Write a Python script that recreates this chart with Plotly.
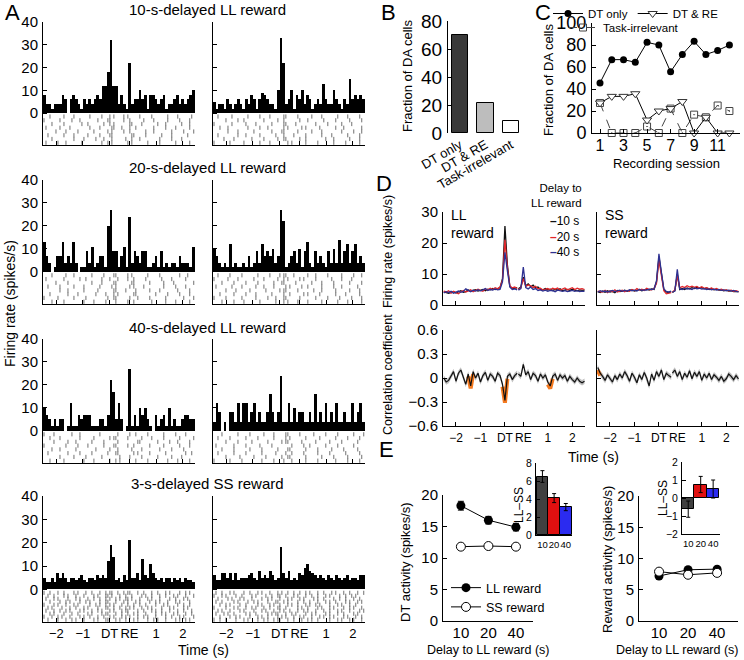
import plotly.graph_objects as go

W, H = 744, 660
FONT = "Liberation Sans, Arial, sans-serif"

# ================= DATA =================
# ---- Panel A: example neuron, PSTH (0.1-s bins from -2.5) + rasters ----
A_titles = ["10-s-delayed LL reward", "20-s-delayed LL reward",
            "40-s-delayed LL reward", "3-s-delayed SS reward"]
A_bin_start = -2.5
A_bin_width = 0.1
A_raster_bin = 0.075
RE_POS = 0.75   # axis position of reward (RE); DT = 0
time_tickvals = [-2, -1, 0, 0.75, 1.75, 2.75]
time_ticktext = ["−2", "−1", "DT", "RE", "1", "2"]

hist_10LL_L = [8,4,4,2,4,4,4,8,6,0, 6,8,6,4,2,6,4,6,4,6, 8,6,12,12,18,32,12,12,4,8,
               4,2,22,4,6,6,10,6,8,2, 8,8,6,4,6,8,2,4,4,6, 8,4,6,4,6,8,10]
hist_10LL_R = [5,2,4,4,2,6,4,2,4,6, 4,2,6,4,8,6,2,6,9,8, 6,4,4,2,10,33,22,4,6,10,
               2,8,6,10,4,8,6,2,4,6, 4,13,6,4,4,10,6,4,2,6, 4,15,6,8,6,8,6]
hist_20LL_L = [13,7,4,0,2,7,7,13,4,7, 4,13,4,0,2,2,9,4,11,2, 4,7,7,2,20,27,9,9,2,7,
               11,2,24,4,9,7,4,9,9,2, 2,4,7,2,9,2,4,2,4,4, 2,7,4,4,4,2,11]
hist_20LL_R = [10,7,4,2,4,2,12,2,4,2, 2,4,2,7,2,4,9,4,12,7, 9,7,10,4,7,27,22,2,4,7,
               9,4,10,2,9,13,4,2,9,4, 7,4,2,9,4,10,4,14,4,9, 12,4,9,12,4,7,4]
hist_40LL_L = [10,7,5,2,5,2,5,5,0,2, 12,2,2,7,5,7,7,7,2,2, 2,5,5,2,7,22,17,5,12,5,
               0,2,27,2,7,2,10,7,10,5, 2,0,7,2,5,7,2,10,2,5, 2,2,5,7,7,5,5]
hist_40LL_R = [4,12,8,0,4,0,8,8,4,12, 4,12,12,4,8,12,4,8,4,4, 8,16,8,4,8,24,4,4,12,4,
               10,4,8,8,4,4,8,4,16,4, 8,4,12,4,8,4,12,4,4,8, 4,4,12,4,8,12,4]
hist_3SS_L = [5,3,3,5,3,7,5,7,5,3, 5,5,4,5,6,4,3,5,5,4, 6,5,6,5,12,19,14,4,5,3,
              6,4,21,5,5,7,4,13,6,5, 11,7,5,4,5,3,5,5,3,5, 4,5,3,5,4,4,3]
hist_3SS_R = [6,4,4,7,7,5,7,4,7,4, 5,5,5,6,7,5,4,8,5,6, 5,8,6,4,5,18,7,5,8,4,
              5,4,7,6,9,11,8,7,6,5, 6,5,4,6,5,4,6,5,4,5, 6,4,5,5,4,6,6]

raster_10LL_L = [
    "...|......|....|.......|.....|...|.|....|.|.....|.....|.......|....|......|.",
    "|.......|.....|...|........|....||......|..|......|....|......|.....|....|...",
    "....|.....|........|..|.......|..|.|.......||....|.......|...|.......|...|...",
    ".|......|....|.........|....|.....||...|...|..|........|.....|....|......|...",
    "......|....|.....|.......|......|.|.....|..|.......|...|........|.....|....|.",
    "..|.......|....|......|.....|....||.........||.....|.......|....|.......|....",
    "....|..........|....|.....|...|...|......|..|...|.........|.....|....|......|",
    ".|.....|...|.......|.........|..|.|.......|.|.......|.....|.......|......|..."]
raster_10LL_R = [
    "..|......|.......|.....|....|......||.....|......|....|.......|....|.....|...",
    "......|.....|..|.........|......|..|.......|...|.......|.....|......|.....|..",
    "|........|......|....|.......|.....||....|.........|.....|......|....|......|",
    "...|...|.........|.....|...|.......|.|......|.|......|.......|...|........|..",
    ".......|....|.......|........|....||......|......|....|.........|.....|...|.",
    "..|.........|...|......|.......|...|....|.....|.......|....|.......|.....|...",
    ".....|....|........|.....|......|..||......|..|.........|...|.......|....|...",
    "|.......|......|.......|....|........|.|......|.....|.......|.....|......|..."]
raster_20LL_L = [
    "....|......|...|........|.....|....||.....|.|.......|.....|.........|...|....",
    ".|........|.......|..|.......|...|...|....|..|.....|.......|....|......|....|",
    "......|.....|...........|....|.....||.......||.......|......|....|.........|.",
    "..|.....|......|....|.......|.....|.|......|.|....|.........|.....|....|.....",
    "........|...|.......|......|.......||....|....|......|....|........|.....|...",
    "...|........|....|........|....|...|.|.......||.........|.....|.....|....|...",
    "|......|.......|.....|..........|..||......|...|.....|.......|........|....|.",
    "....|.....|.........|....|.....|....|.....|..|........|......|....|......|..."]
raster_20LL_R = [
    "..|.....|.....|.......|.....|....|.||...|......|...|.....|......|.....|...|..",
    "|......|....|.......|....|......|..|.|.....|.|.....|.......|....|....|......|",
    "....|.....|.....|.....|.......|...||.....|.......|....|.....|.......|.....|..",
    ".|.......|....|......|...|....|.....|.|.....|..|......|.....|...|.......|...|",
    "......|....|......|.......|......|.||.....|.......|...|......|......|....|...",
    "...|......|.....|....|.......|.....|..|......|.|.....|.......|....|......|...",
    "|.....|.......|......|.....|...|...||......|.......|.....|.....|.....|....|..",
    "....|.....|....|.......|.......|...|.|....|....|......|.......|....|......|.|"]
raster_40LL_L = [
    "|....|........|...|.........|........|.....|..|.....|.......|.....|....|....|",
    "...|....|.........|......|.......|.||.....|......|....|.....|.......|......|.",
    ".....|......|...|.......|.....|......|.........||........|.....|...|.....|...",
    "|..........|.....|....|.......|....||.....|..|.......|......|.......|....|...",
    "....|...|.......|.........|......|...|......|....|........|.....|.....|......",
    "..|.........|.....|.....|.......|...||.......|.|.....|.......|.........|..|..",
    "........|......|.....|.......|........|....|.....|.......|......|....|......|",
    "...|......|.........|....|.......|..|.|.......|.....|.........|....|.....|..."]
raster_40LL_R = [
    "....|.......|.....|......|....|.....||.....|......|.....|.....|.......|....|.",
    "..|.....|.......|.....|.......|.....|.|.......|......|.......|.....|.....|...",
    "......|.....|......|.......|......|.||......|......|......|.....|.......|....",
    ".|........|.....|......|.....|.........|.....|..|.......|.....|.......|.....|",
    "....|.....|.......|.....|.......|....||.......|.....|......|.....|......|....",
    "..|.......|.....|.......|......|....|..|.....|......|.....|.......|......|...",
    "......|......|......|.....|.......|..||.......|.......|.....|......|......|..",
    "|.......|.....|.........|.....|....|...|......|.....|........|.....|.....|..."]
raster_3SS_L = [
    "|..|...|..|....|.|...|..|...|..|.||..|..|.||...|..|...|..|...|.|....|..|.|...",
    "..|..|....|.|...|...|....|.|...||.|...|..|..|....|.|..|...|..|...|.|...|...|.",
    ".|...|.|....|...|.|...|..|..|..|.|..|.|..||.|...|...|.|...|....|..|...|.|...|",
    "...|....|..|.|....|..|.|....|..||...|...|.|...|.|....|..|.|...|...|.|....|...",
    "|....|.|...|...|.|.....|..|.|..|.|.|...|..|..|..|..|....|...|.|....|..|..|..|",
    "..|.|....|...|..|...|.|....|...||..|..|..|.|.|...|..|.|....|...|.|....|.|....",
    ".|...|..|..|.|....|.|...|..|.|...|.|...|.||....|..|...|.|..|...|...|..|...|..",
    "...|.|....|...|..|....|.|....|.||...|..|..|..|.|...|....|..|.|...|.|...|..|.|",
    "|...|..|.|...|....|.|..|...|..|..|.|...|.|.|...|..|.|...|....|..|...|.|....|.",
    "..|....|...|..|.|...|....|.|...||...|.|..|...|.|....|..|.|...|....|.|..|.|..."]
raster_3SS_R = [
    ".|..|...|.|....|..|...|.|...|...|.|..|..|..|..|.|...|..|...|.|...|..|...|..|.",
    "|...|.|....|..|....|.|....|..|..||..|...|.|...|..|..|...|.|....|..|..|.|....|",
    "..|....|.|...|.|...|....|..|.|...|...|.|...|.|....|.|..|....|..|..|...|..|...",
    ".|..|.....|.|....|..|.|....|...||..|.|....|..|..|...|...|.|..|....|.|...|.|..",
    "...|..|.|....|..|.....|.|...|.|..|...|.|..|...|.|..|.|....|...|.|...|..|....|",
    "|.....|...|.|...|..|.|...|..|...||..|.....|.|..|....|.|...|.|....|..|.|...|..",
    "..|.|...|....|.|....|...|.|...|..|.|..|...|..|.|...|...|..|...|.|...|....|.|.",
    ".|...|.|..|.....|.|..|.....|.|.||...|..|.|....|..|.|....|.|...|..|....|.|...|",
    "...|....|..|.|....|...|.|..|....|.|.|...|..|.|...|...|.|..|.|....|.|...|..|..",
    "|..|..|....|...|.|....|..|.|..|.||...|..|...|..|.|..|.....|...|.|...|.|...|.."]

A_hists = [[hist_10LL_L, hist_10LL_R], [hist_20LL_L, hist_20LL_R],
           [hist_40LL_L, hist_40LL_R], [hist_3SS_L, hist_3SS_R]]
A_rasters = [[raster_10LL_L, raster_10LL_R], [raster_20LL_L, raster_20LL_R],
             [raster_40LL_L, raster_40LL_R], [raster_3SS_L, raster_3SS_R]]

# ---- Panel B ----
B_categories = ["DT only", "DT & RE", "Task-irrelevant"]
B_values = [70, 21.5, 8.5]
B_colors = ["#3a3a3a", "#bdbdbd", "#ffffff"]

# ---- Panel C ----
C_sessions = [1, 2, 3, 4, 5, 6, 7, 8, 9, 10, 11, 12]
C_dt_only = [45.5, 66.7, 66.7, 64.3, 82.4, 80.0, 55.6, 71.4, 83.3, 71.4, 75.0, 80.0]
C_dt_re = [27.3, 33.3, 33.3, 35.7, 11.8, 20.0, 22.2, 28.6, 0, 14.3, 0, 0]
C_task_irr = [27.3, 0, 0, 0, 5.9, 0, 22.2, 0, 16.7, 14.3, 25.0, 20.0]

# ---- Panel D: population firing rate and correlation ----
D_t_dt = [round(-2.5 + 0.1 * i, 2) for i in range(31)]   # time from DT (s)
D_t_re = [round(-0.2 + 0.1 * i, 2) for i in range(28)]   # time from RE (s)
D_delays = ["10 s", "20 s", "40 s"]
D_colors = ["#111111", "#e3262a", "#2e3192"]
fr_LL_dt = {
    "10 s": [4.2,4.0,3.8,4.1,4.3,3.9,4.2,4.6,4.1,4.3, 4.8,4.4,4.7,4.9,4.5,4.8,5.0,4.6,5.1,4.9,
             5.3,5.0,5.4,5.6,8.5,25.5,13.0,6.0,5.2,5.4, 5.6],
    "20 s": [4.5,4.2,4.6,3.8,4.4,4.0,3.6,4.3,4.7,4.2, 4.5,4.9,4.3,4.6,5.1,4.7,4.4,5.2,4.8,5.4,
             5.0,5.6,5.2,5.8,8.0,21.0,12.0,6.2,5.5,5.8, 5.3],
    "40 s": [3.9,4.3,4.0,4.4,3.8,4.2,4.5,4.1,4.4,5.2, 4.6,4.3,4.8,4.5,4.9,4.6,4.9,5.3,4.7,5.0,
             4.8,5.2,4.9,5.0,7.5,17.0,11.0,5.8,5.0,5.2, 4.9]}
fr_LL_re = {
    "10 s": [5.2,5.8,9.0,6.2,6.8,5.9,6.4,5.5,5.8,5.0, 4.9,5.3,4.8,5.1,4.7,5.0,4.8,5.2,4.6,4.9,
             5.0,4.7,5.1,4.8,4.6,4.9,4.7,4.8],
    "20 s": [5.0,5.5,8.5,6.0,6.5,6.2,5.6,6.0,5.2,5.4, 4.8,5.0,5.3,4.9,5.4,5.1,5.5,4.8,5.2,5.5,
             4.9,5.3,5.6,5.0,5.4,5.1,5.3,5.0],
    "40 s": [4.8,5.3,12.2,5.6,5.2,5.8,5.0,5.3,4.7,4.9, 4.5,4.8,4.4,4.7,4.6,4.3,4.8,4.5,4.4,4.6,
             4.3,4.5,4.7,4.4,4.6,4.3,4.5,4.4]}
fr_SS_dt = {
    "10 s": [4.3,4.0,4.5,4.1,4.6,4.2,4.4,4.0,4.7,4.3, 4.5,4.8,4.4,4.6,4.9,4.5,4.7,5.0,4.6,4.9,
             5.1,4.8,5.2,5.0,7.5,15.5,10.0,5.0,4.2,4.0, 4.3],
    "20 s": [4.5,4.4,4.2,4.7,4.0,4.6,4.3,4.9,4.2,4.5, 4.8,4.3,4.7,4.4,5.0,4.6,5.3,4.8,5.1,4.7,
             5.4,5.0,4.9,5.3,7.0,14.5,9.5,4.6,3.6,3.8, 4.0],
    "40 s": [4.1,4.6,4.3,4.5,4.2,4.4,4.7,4.3,4.5,4.8, 4.4,4.7,4.5,4.9,4.6,4.8,4.5,5.0,4.7,4.9,
             4.8,5.1,5.0,5.2,7.8,16.5,10.5,5.2,4.4,4.2, 4.5]}
fr_SS_re = {
    "10 s": [4.0,4.6,10.0,5.0,5.3,5.0,5.5,5.2,5.6,5.3, 5.7,5.4,5.6,5.2,5.5,5.0,5.3,4.9,5.1,4.8,
             4.9,4.6,4.8,4.5,4.6,4.3,4.4,4.2],
    "20 s": [4.2,4.8,9.5,5.5,6.0,5.6,6.2,5.8,6.1,5.7, 6.0,5.5,5.9,5.4,5.6,5.2,5.5,5.0,5.3,4.9,
             5.1,4.7,4.9,4.6,4.8,4.4,4.6,4.3],
    "40 s": [4.1,4.5,11.5,5.2,5.0,5.4,5.1,5.3,5.0,5.5, 5.2,5.4,5.1,5.3,5.0,5.2,4.9,5.1,4.8,5.0,
             4.7,4.9,4.6,4.8,4.5,4.7,4.4,4.3]}
corr_LL_dt = [0.0,-0.05,-0.03,0.02,0.08,-0.04,0.06,0.10,0.02,-0.08, 0.05,-0.10,0.08,0.00,0.06,
              -0.05,0.03,0.07,-0.03,0.05, 0.02,-0.04,0.06,0.03,-0.08,-0.28,0.02,0.05,-0.02,0.03, 0.06]
corr_LL_re = [0.05,0.02,0.17,0.04,0.08,-0.02,0.06,0.03,-0.04,0.05, 0.00,0.04,-0.05,-0.10,0.02,
              0.05,-0.03,0.04,0.00,0.03, -0.04,0.02,-0.02,-0.05,0.00,-0.04,-0.06,-0.04]
corr_SS_dt = [0.13,0.06,0.02,-0.03,0.04,0.00,-0.05,0.03,-0.02,0.05, 0.00,0.08,0.03,-0.04,0.06,
              0.01,-0.06,0.04,-0.02,0.07, 0.00,-0.10,0.05,-0.03,0.08,0.02,0.10,-0.02,0.06,0.03, 0.01]
corr_SS_re = [0.06,0.10,0.02,0.08,-0.02,0.06,0.01,0.09,-0.01,0.07, 0.02,0.08,-0.03,0.05,0.00,
              0.06,-0.02,0.04,0.01,-0.03, 0.02,-0.04,-0.01,0.05,0.02,-0.02,0.03,-0.01]
corr_sem = 0.035
corr_LL_sig_dt = [11, 25]
corr_LL_sig_re = [13]
corr_SS_sig_dt = [0]
corr_SS_sig_re = []

# ---- Panel E ----
E_delays = ["10", "20", "40"]
E_dt_LL = [18.3, 16.0, 14.9]; E_dt_LL_err = [0.7, 0.6, 0.6]
E_dt_SS = [11.8, 11.9, 11.8]; E_dt_SS_err = [0.4, 0.4, 0.4]
E_rw_LL = [7.2, 8.2, 8.3];   E_rw_LL_err = [0.3, 0.3, 0.3]
E_rw_SS = [7.9, 7.4, 7.7];   E_rw_SS_err = [0.3, 0.3, 0.3]
E_dt_diff = [6.5, 4.1, 3.1]; E_dt_diff_err = [0.65, 0.5, 0.4]
E_rw_diff = [-0.62, 0.75, 0.5]; E_rw_diff_err = [0.45, 0.45, 0.5]
E_bar_colors = ["#404040", "#e01010", "#2b2bf0"]

# ================= FIGURE =================
fig = go.Figure()
layout = dict(width=W, height=H, margin=dict(l=0, r=0, t=0, b=0, autoexpand=False),
              paper_bgcolor="white", plot_bgcolor="white", barmode="overlay", bargap=0,
              font=dict(family=FONT, color="black"), showlegend=True, annotations=[])
AX = dict(showline=True, linecolor="black", linewidth=1, ticks="inside", ticklen=4,
          tickwidth=1, tickcolor="black", showgrid=False, zeroline=False, fixedrange=True,
          automargin=False, tickangle=0, ticklabelstandoff=1)
_count = [0]


def make_axes(x0, x1, top, bot, xr, yr, xkw=None, ykw=None, fsize=15):
    _count[0] += 1
    s = "" if _count[0] == 1 else str(_count[0])
    xa = dict(AX)
    xa.update(domain=[x0 / W, x1 / W], range=xr, anchor="y" + s,
              tickfont=dict(family=FONT, size=fsize, color="black"))
    ya = dict(AX)
    ya.update(domain=[1 - bot / H, 1 - top / H], range=yr, anchor="x" + s,
              tickfont=dict(family=FONT, size=fsize, color="black"))
    if xkw:
        xa.update(xkw)
    if ykw:
        ya.update(ykw)
    layout["xaxis" + s] = xa
    layout["yaxis" + s] = ya
    return "x" + s, "y" + s


def note(text, x, y, size, angle=0, xanchor="center", yanchor="middle", align="center"):
    layout["annotations"].append(dict(
        text=text, x=x / W, y=1 - y / H, xref="paper", yref="paper", showarrow=False,
        textangle=angle, xanchor=xanchor, yanchor=yanchor, align=align,
        font=dict(family=FONT, size=size, color="black")))


# ---------- Panel A ----------
A_cols = [(43, 195), (213, 365)]
A_tops = [22, 180, 339, 496]
A_bots = [145, 304, 463, 622]
for r in range(4):
    for c in range(2):
        xa, ya = make_axes(A_cols[c][0], A_cols[c][1], A_tops[r], A_bots[r], [-2.5, 3.21], [-14, 40],
                           xkw=dict(tickvals=time_tickvals, ticktext=time_ticktext,
                                    showticklabels=(r == 3), ticklabelstandoff=-1,
                                    tickfont=dict(family=FONT, size=13, color="black")),
                           ykw=dict(tickvals=[0, 10, 20, 30, 40], showticklabels=(c == 0)),
                           fsize=15)
        vals = A_hists[r][c]
        xs = [A_bin_start + A_bin_width * (i + 0.5) for i in range(len(vals))]
        fig.add_trace(go.Bar(x=xs, y=vals, width=A_bin_width,
                             marker=dict(color="black", line=dict(width=0)),
                             xaxis=xa, yaxis=ya, showlegend=False, hoverinfo="skip"))
        rows = A_rasters[r][c]
        step = 11.5 / (len(rows) - 1)
        rx, ry = [], []
        for k, row in enumerate(rows):
            for j, ch in enumerate(row):
                if ch == "|":
                    rx.append(A_bin_start + A_raster_bin * (j + 0.5))
                    ry.append(-1.5 - k * step)
        fig.add_trace(go.Scatter(x=rx, y=ry, mode="markers",
                                 marker=dict(symbol="line-ns", size=3,
                                             line=dict(width=1, color="#707070")),
                                 xaxis=xa, yaxis=ya, showlegend=False, hoverinfo="skip"))
    note(A_titles[r], 208, A_tops[r] - 12, 15)
note("A", 13, 12, 22)
note("Firing rate (spikes/s)", 10, 304, 14, angle=-90)
note("Time (s)", 204, 650, 14)

# ---------- Panel B ----------
xa, ya = make_axes(448, 525, 21, 133, [-0.47, 2.55], [0, 80],
                   xkw=dict(type="category", showline=False, ticks="", tickangle=-30,
                            tickfont=dict(family=FONT, size=13, color="black")),
                   ykw=dict(tickvals=[0, 20, 40, 60, 80]), fsize=19)
fig.add_trace(go.Bar(x=B_categories, y=B_values, width=0.63,
                     marker=dict(color=B_colors, line=dict(color="black", width=1)),
                     xaxis=xa, yaxis=ya, showlegend=False))
note("B", 388, 12, 22)
note("Fraction of DA cells", 408, 76, 13, angle=-90)

# ---------- Panel C ----------
xa, ya = make_axes(592, 740, 23, 133, [0.32, 12.9], [0, 100],
                   xkw=dict(tickvals=[1, 3, 5, 7, 9, 11], ticklabelstandoff=-2,
                            tickfont=dict(family=FONT, size=16, color="black")),
                   ykw=dict(tickvals=[0, 20, 40, 60, 80, 100]), fsize=18)
fig.add_trace(go.Scatter(x=C_sessions, y=C_task_irr, mode="lines+markers", name="Task-irrelevant",
                         line=dict(color="#444444", width=1, dash="dash"),
                         marker=dict(symbol="square-open-dot", size=7, color="#444444"),
                         xaxis=xa, yaxis=ya, cliponaxis=False, legend="legend3"))
fig.add_trace(go.Scatter(x=C_sessions, y=C_dt_only, mode="lines+markers", name="DT only",
                         line=dict(color="black", width=1),
                         marker=dict(symbol="circle", size=7, color="black"),
                         xaxis=xa, yaxis=ya, cliponaxis=False, legend="legend2"))
fig.add_trace(go.Scatter(x=C_sessions, y=C_dt_re, mode="lines+markers", name="DT & RE",
                         line=dict(color="black", width=1),
                         marker=dict(symbol="triangle-down", size=8, color="white",
                                     line=dict(color="#333333", width=1)),
                         xaxis=xa, yaxis=ya, cliponaxis=False, legend="legend2"))
note("C", 543, 13, 22)
note("Fraction of DA cells", 548, 80, 13, angle=-90)
note("Recording session", 666, 163, 13)
layout["legend2"] = dict(x=548 / W, y=1 + 1 / H, xanchor="left", yanchor="top", orientation="h",
                         font=dict(family=FONT, size=11.5, color="black"), bgcolor="rgba(0,0,0,0)",
                         itemwidth=30, traceorder="normal")
layout["legend3"] = dict(x=563 / W, y=1 - 13 / H, xanchor="left", yanchor="top", orientation="h",
                         font=dict(family=FONT, size=11.5, color="black"), bgcolor="rgba(0,0,0,0)",
                         itemwidth=30)

# ---------- Panel D ----------
xpos_dt = D_t_dt
xpos_re = [RE_POS + t for t in D_t_re]
D_cols = [(443, 585), (597, 739)]
fr_sets = [(fr_LL_dt, fr_LL_re), (fr_SS_dt, fr_SS_re)]
corr_sets = [(corr_LL_dt, corr_LL_re, corr_LL_sig_dt, corr_LL_sig_re),
             (corr_SS_dt, corr_SS_re, corr_SS_sig_dt, corr_SS_sig_re)]
for c in range(2):
    xa, ya = make_axes(D_cols[c][0], D_cols[c][1], 212, 305, [-2.53, 3.27], [0, 30],
                       xkw=dict(tickvals=time_tickvals, showticklabels=False),
                       ykw=dict(tickvals=[0, 10, 20, 30], showticklabels=(c == 0)), fsize=15)
    fdt, fre = fr_sets[c]
    for d, col in zip(D_delays, D_colors):
        fig.add_trace(go.Scatter(x=xpos_dt + [None] + xpos_re, y=fdt[d] + [None] + fre[d],
                                 mode="lines", line=dict(color=col, width=1.3),
                                 xaxis=xa, yaxis=ya, showlegend=False, hoverinfo="skip"))
for c in range(2):
    xa, ya = make_axes(D_cols[c][0], D_cols[c][1], 330, 426, [-2.53, 3.27], [-0.6, 0.6],
                       xkw=dict(tickvals=time_tickvals, ticktext=time_ticktext,
                                tickfont=dict(family=FONT, size=12, color="black")),
                       ykw=dict(tickvals=[-0.6, -0.3, 0, 0.3, 0.6],
                                ticktext=["−0.6", "−0.3", "0", "0.3", "0.6"],
                                showticklabels=(c == 0)), fsize=15)
    cdt, cre, sdt, sre = corr_sets[c]
    for xs, ys, sig in ((xpos_dt, cdt, sdt), (xpos_re, cre, sre)):
        up = [v + corr_sem for v in ys]
        lo = [v - corr_sem for v in ys]
        fig.add_trace(go.Scatter(x=xs + xs[::-1], y=up + lo[::-1], fill="toself",
                                 fillcolor="rgba(150,150,150,0.6)", line=dict(width=0),
                                 mode="lines", xaxis=xa, yaxis=ya, showlegend=False,
                                 hoverinfo="skip"))
        for i in sig:
            i0, i1 = max(i - 1, 0), min(i + 2, len(xs))
            fig.add_trace(go.Scatter(x=xs[i0:i1], y=[v - 0.03 for v in ys[i0:i1]],
                                     mode="lines", line=dict(color="#f47a20", width=4),
                                     xaxis=xa, yaxis=ya, showlegend=False, hoverinfo="skip"))
        fig.add_trace(go.Scatter(x=xs, y=ys, mode="lines", line=dict(color="#111111", width=1.2),
                                 xaxis=xa, yaxis=ya, showlegend=False, hoverinfo="skip"))
note("D", 384, 183, 22)
note("Firing rate (spikes/s)", 388, 252, 12.5, angle=-90)
note("Correlation coefficient", 388, 375, 12.5, angle=-90)
note("Time (s)", 593, 457, 14)
note("LL<br>reward", 449, 205, 14, xanchor="left", yanchor="top", align="left")
note("SS<br>reward", 603, 205, 14, xanchor="left", yanchor="top", align="left")
note("Delay to<br>LL reward", 584, 180, 11.5, xanchor="right", yanchor="top", align="right")
for k, (d, col) in enumerate(zip(D_delays, D_colors)):
    note('<span style="color:%s"><b>–</b></span>%s' % (col, d), 548, 221 + 15.5 * k, 12,
         xanchor="left")

# ---------- Panel E ----------
cat_ticks = dict(type="category", ticks="", tickmode="array", tickvals=E_delays)
main_x = dict(cat_ticks, ticklabelstandoff=-2)
xa, ya = make_axes(443, 533, 495, 621, [-0.65, 2.62], [0, 20],
                   xkw=main_x, ykw=dict(tickvals=[0, 5, 10, 15, 20]), fsize=15)
fig.add_trace(go.Scatter(x=E_delays, y=E_dt_LL, mode="lines+markers", name="LL reward",
                         error_y=dict(type="data", array=E_dt_LL_err, color="black", thickness=1, width=3),
                         line=dict(color="black", width=1), marker=dict(size=9, color="black"),
                         xaxis=xa, yaxis=ya, legend="legend4", cliponaxis=False))
fig.add_trace(go.Scatter(x=E_delays, y=E_dt_SS, mode="lines+markers", name="SS reward",
                         error_y=dict(type="data", array=E_dt_SS_err, color="black", thickness=1, width=3),
                         line=dict(color="black", width=1),
                         marker=dict(size=9, color="white", line=dict(color="black", width=1)),
                         xaxis=xa, yaxis=ya, legend="legend4", cliponaxis=False))
layout["legend4"] = dict(x=446 / W, y=1 - 573 / H, xanchor="left", yanchor="top",
                         font=dict(family=FONT, size=12.5, color="black"), bgcolor="rgba(0,0,0,0)",
                         itemwidth=30, tracegroupgap=0)

inset_x = dict(cat_ticks, tickfont=dict(family=FONT, size=9.5, color="black"))
xa, ya = make_axes(536, 572, 463, 535, [-0.55, 2.53], [0, 8],
                   xkw=inset_x, ykw=dict(tickvals=[0, 2, 4, 6, 8]), fsize=10.5)
fig.add_trace(go.Bar(x=E_delays, y=E_dt_diff, width=1,
                     error_y=dict(type="data", array=E_dt_diff_err, color="black", thickness=1, width=2),
                     marker=dict(color=E_bar_colors, line=dict(color="black", width=1)),
                     xaxis=xa, yaxis=ya, showlegend=False))
for cat, v, e in zip(E_delays, E_dt_diff, E_dt_diff_err):
    layout["annotations"].append(dict(text="*", x=cat, y=v + e, xref=xa, yref=ya, showarrow=False,
                                      yanchor="bottom", yshift=-6,
                                      font=dict(family=FONT, size=15, color="black")))

xa, ya = make_axes(639, 738, 496, 621, [-0.69, 2.72], [0, 20],
                   xkw=main_x, ykw=dict(tickvals=[0, 5, 10, 15, 20]), fsize=15)
fig.add_trace(go.Scatter(x=E_delays, y=E_rw_LL, mode="lines+markers", name="LL reward",
                         error_y=dict(type="data", array=E_rw_LL_err, color="black", thickness=1, width=3),
                         line=dict(color="black", width=1), marker=dict(size=9, color="black"),
                         xaxis=xa, yaxis=ya, showlegend=False, cliponaxis=False))
fig.add_trace(go.Scatter(x=E_delays, y=E_rw_SS, mode="lines+markers", name="SS reward",
                         error_y=dict(type="data", array=E_rw_SS_err, color="black", thickness=1, width=3),
                         line=dict(color="black", width=1),
                         marker=dict(size=9, color="white", line=dict(color="black", width=1)),
                         xaxis=xa, yaxis=ya, showlegend=False, cliponaxis=False))

xa, ya = make_axes(682, 720, 462, 534, [-0.5, 2.55], [-2, 2],
                   xkw=inset_x,
                   ykw=dict(tickvals=[-2, -1, 0, 1, 2], ticktext=["−2", "−1", "0", "1", "2"]),
                   fsize=10.5)
fig.add_trace(go.Bar(x=E_delays, y=E_rw_diff, width=1,
                     error_y=dict(type="data", array=E_rw_diff_err, color="black", thickness=1, width=2),
                     marker=dict(color=E_bar_colors, line=dict(color="black", width=1)),
                     xaxis=xa, yaxis=ya, showlegend=False))

note("E", 386, 450, 22)
note("LL–SS", 519, 505, 12, angle=-90)
note("LL–SS", 663, 498, 12, angle=-90)
note("DT activity (spikes/s)", 405, 562, 13, angle=-90)
note("Reward activity (spikes/s)", 607, 560, 13, angle=-90)
note("Delay to LL reward (s)", 488, 650, 12.5)
note("Delay to LL reward (s)", 677, 650, 12.5)

fig.update_layout(**layout)
fig.write_html("out.html", config={"displayModeBar": False},
               post_script="document.body.style.margin='0px';")
